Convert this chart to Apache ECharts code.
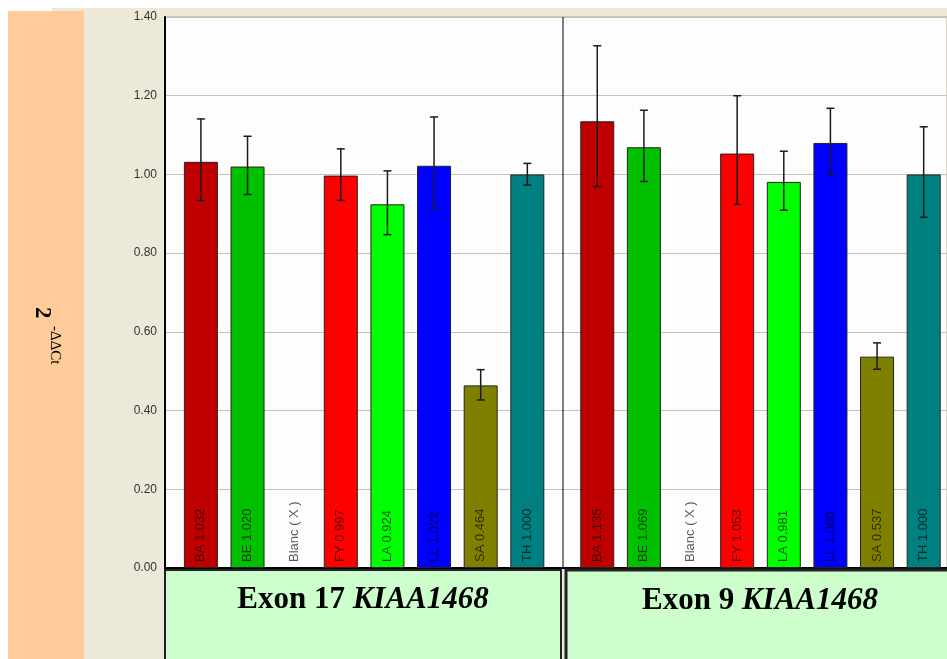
<!DOCTYPE html>
<html>
<head>
<meta charset="utf-8">
<script src="https://cdn.jsdelivr.net/npm/echarts@6/dist/echarts.min.js"></script>
<style>
  html, body { margin: 0; padding: 0; background: #fff; }
  #chart { width: 947px; height: 659px; }
</style>
</head>
<body>
<div id="chart"></div>
<script>
// samples measured in each exon
const samples = ['BA', 'BE', 'Blanc', 'FY', 'LA', 'LL', 'SA', 'TH']
const groups = ['Exon 17', 'Exon 9']
const gene = 'KIAA1468'
// 2^-ddCt, Blanc has no value
const exon17 = [1.032, 1.020, 0, 0.997, 0.924, 1.022, 0.464, 1.000]
const exon9 = [1.135, 1.069, 0, 1.053, 0.981, 1.080, 0.537, 1.000]
// error bar ends
const exon17Low = [0.934, 0.949, null, 0.934, 0.847, 0.914, 0.427, 0.973]
const exon17High = [1.141, 1.097, null, 1.065, 1.009, 1.146, 0.504, 1.028]
const exon9Low = [0.969, 0.982, null, 0.924, 0.909, 1.000, 0.505, 0.891]
const exon9High = [1.327, 1.163, null, 1.200, 1.059, 1.168, 0.572, 1.121]
const yTicks = [0, 0.2, 0.4, 0.6, 0.8, 1.0, 1.2, 1.4]

const palette = ['#C00000', '#00C000', '#FFFFFF', '#FF0000', '#00FF00', '#0000FF', '#808000', '#008080']
const GROUP_STEP = 8.5 // slot offset of the second group

const chart = echarts.init(document.getElementById('chart'))

const barData = (values, g) => values.map((v, i) => ({
  name: samples[i],
  value: [g * GROUP_STEP + i, v],
  itemStyle: {
    color: palette[i],
    borderWidth: samples[i] === 'Blanc' ? 0 : 1
  }
}))

const errData = (low, high, g) => low
  .map((l, i) => [g * GROUP_STEP + i, l, high[i]])
  .filter(d => d[1] != null)

const barSeries = (values, g) => ({
  type: 'bar',
  data: barData(values, g),
  barWidth: 34,
  barGap: '-100%',
  itemStyle: { borderColor: '#222', borderWidth: 1 },
  label: {
    show: true,
    position: 'insideBottom',
    rotate: 90,
    align: 'left',
    verticalAlign: 'middle',
    distance: 6,
    fontFamily: 'Liberation Sans',
    fontSize: 13,
    color: 'rgba(0,0,0,0.65)',
    formatter: p => p.name === 'Blanc' ? 'Blanc ( X )' : p.name + ' ' + p.value[1].toFixed(3)
  },
  silent: true,
  animation: false
})

const errSeries = (low, high, g) => ({
  type: 'custom',
  data: errData(low, high, g),
  encode: { x: 0, y: [1, 2] },
  z: 5,
  animation: false,
  renderItem: (params, api) => {
    const lo = api.coord([api.value(0), api.value(1)])
    const hi = api.coord([api.value(0), api.value(2)])
    const style = { stroke: '#1a1a1a', lineWidth: 1.5 }
    return {
      type: 'group',
      children: [
        { type: 'line', shape: { x1: lo[0], y1: lo[1], x2: hi[0], y2: hi[1] }, style },
        { type: 'line', shape: { x1: hi[0] - 4, y1: hi[1], x2: hi[0] + 4, y2: hi[1] }, style },
        { type: 'line', shape: { x1: lo[0] - 4, y1: lo[1], x2: lo[0] + 4, y2: lo[1] }, style }
      ]
    }
  }
})

const panelTitle = (g) => ({
  text: '{a|' + groups[g] + ' }{b|' + gene + '}',
  rich: {
    a: { fontFamily: 'Liberation Serif', fontWeight: 'bold', fontSize: 31, fill: '#000' },
    b: { fontFamily: 'Liberation Serif', fontWeight: 'bold', fontStyle: 'italic', fontSize: 31, fill: '#000' }
  },
  align: 'center',
  verticalAlign: 'middle'
})

chart.setOption({
  backgroundColor: '#fff',
  animation: false,
  grid: {
    left: 165, top: 17, right: 0, bottom: 91,
    show: true,
    backgroundColor: '#FDFDFD',
    borderColor: '#ACA899',
    borderWidth: 1
  },
  xAxis: {
    type: 'value',
    min: -0.77,
    max: 16.0,
    axisLine: { show: true, onZero: false, lineStyle: { color: '#000', width: 2 } },
    axisTick: { show: false },
    axisLabel: { show: false },
    splitLine: { show: false }
  },
  yAxis: {
    type: 'value',
    min: yTicks[0],
    max: yTicks[yTicks.length - 1],
    interval: 0.2,
    axisLine: { show: true, onZero: false, lineStyle: { color: '#000', width: 2 } },
    axisTick: { show: false },
    axisLabel: {
      margin: 8,
      fontFamily: 'Liberation Sans',
      fontSize: 12,
      color: '#333',
      formatter: v => v.toFixed(2)
    },
    splitLine: { lineStyle: { color: '#C4C2B0', width: 1 } }
  },
  graphic: [
    // window background
    { type: 'rect', z: -10, shape: { x: 52, y: 8, width: 895, height: 651 }, style: { fill: '#ECE9D8' } },
    { type: 'rect', z: -9, shape: { x: 8, y: 11, width: 76, height: 648 }, style: { fill: '#FFCC99' } },
    // y axis title, rotated
    { type: 'text', x: 42, y: 307, rotation: -Math.PI / 2, style: {
      text: '2', fontFamily: 'Liberation Serif', fontWeight: 'bold', fontSize: 23, fill: '#000',
      align: 'left', verticalAlign: 'middle' } },
    { type: 'text', x: 55, y: 326, rotation: -Math.PI / 2, style: {
      text: '-ΔΔCt', fontFamily: 'Liberation Serif', fontSize: 15, fill: '#000',
      align: 'left', verticalAlign: 'middle' } },
    // separator between the two exons
    { type: 'line', z: 10, shape: { x1: 563, y1: 17, x2: 563, y2: 568 }, style: { stroke: '#000', lineWidth: 1 } },
    // bottom panels
    { type: 'rect', z: 10, shape: { x: 165, y: 570, width: 396, height: 100 }, style: { fill: '#CCFFCC', stroke: '#222', lineWidth: 2 } },
    { type: 'rect', z: 10, shape: { x: 566, y: 570, width: 400, height: 100 }, style: { fill: '#CCFFCC', stroke: '#222', lineWidth: 3 } },
    { type: 'text', z: 11, x: 363, y: 600, style: panelTitle(0) },
    { type: 'text', z: 11, x: 760, y: 601, style: panelTitle(1) }
  ],
  series: [
    barSeries(exon17, 0),
    barSeries(exon9, 1),
    errSeries(exon17Low, exon17High, 0),
    errSeries(exon9Low, exon9High, 1)
  ]
})
</script>
</body>
</html>
